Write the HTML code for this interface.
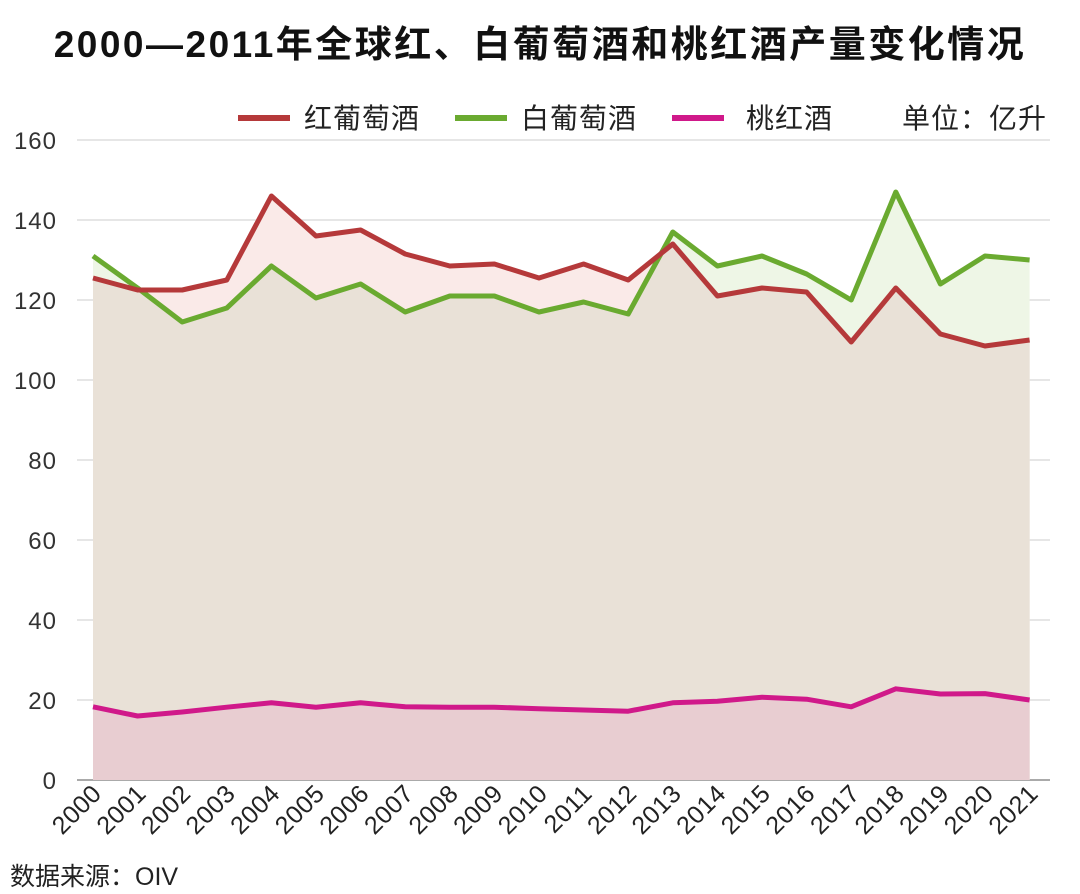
<!DOCTYPE html>
<html><head><meta charset="utf-8"><style>
html,body{margin:0;padding:0;background:#fff;width:1080px;height:894px;overflow:hidden}
svg text{font-family:"Liberation Sans","Noto Sans CJK SC",sans-serif}
</style></head><body>
<svg id="c" width="1080" height="894" xmlns="http://www.w3.org/2000/svg">
<text x="540" y="57" text-anchor="middle" font-size="37" font-weight="bold" fill="#111" letter-spacing="2.5">2000—2011年全球红、白葡萄酒和桃红酒产量变化情况</text>
<line x1="238" y1="118" x2="290" y2="118" stroke="#b5393a" stroke-width="6"/>
<text x="304" y="128" font-size="28" fill="#222" letter-spacing="1">红葡萄酒</text>
<line x1="455" y1="118" x2="507" y2="118" stroke="#6aaa30" stroke-width="6"/>
<text x="521" y="128" font-size="28" fill="#222" letter-spacing="1">白葡萄酒</text>
<line x1="672" y1="118" x2="724" y2="118" stroke="#d0198a" stroke-width="6"/>
<text x="746" y="128" font-size="28" fill="#222" letter-spacing="1">桃红酒</text>
<text x="902" y="128" font-size="28" fill="#222" letter-spacing="1">单位：亿升</text>
<text x="10" y="885" font-size="25" fill="#222">数据来源：OIV</text>
</svg>
<script>
var R=[125.5,122.5,122.5,125,146,136,137.5,131.5,128.5,129,125.5,129,125,134,121,123,122,109.5,123,111.5,108.5,110];
var G=[131,123,114.5,118,128.5,120.5,124,117,121,121,117,119.5,116.5,137,128.5,131,126.5,120,147,124,131,130];
var P=[18.3,16,17,18.2,19.3,18.2,19.3,18.3,18.2,18.2,17.8,17.5,17.2,19.3,19.7,20.7,20.2,18.3,22.8,21.5,21.6,20];
function X(i){return 93+i*44.6}function Y(v){return 780-v*4}
var s='';
for(var k=0;k<=8;k++){var y=Y(k*20);s+='<line x1="77" y1="'+y+'" x2="1050" y2="'+y+'" stroke="'+(k==0?'#aaa':'#d8d8d8')+'" stroke-width="'+(k==0?2:1.2)+'"/>';
s+='<text x="57" y="'+(y+9)+'" text-anchor="end" font-size="24" fill="#333" letter-spacing="1">'+(k*20)+'</text>';}
function pts(a){return a.map(function(v,i){return X(i).toFixed(1)+','+Y(v).toFixed(1)}).join(' ')}
function area(a,c){return '<polygon points="'+X(0)+','+Y(0)+' '+pts(a)+' '+X(21)+','+Y(0)+'" fill="'+c+'"/>'}
var M=[];for(var i=0;i<22;i++){M.push([X(i),Y(Math.min(R[i],G[i]))]);if(i<21){var d1=R[i]-G[i],d2=R[i+1]-G[i+1];if(d1*d2<0){var t=d1/(d1-d2);M.push([X(i)+t*44.6,Y(R[i]+t*(R[i+1]-R[i]))]);}}}
s+=area(R,'#faeae8')+area(G,'#eef6e6');
s+='<polygon points="'+X(0)+','+Y(0)+' '+M.map(function(p){return p[0].toFixed(1)+','+p[1].toFixed(1)}).join(' ')+' '+X(21)+','+Y(0)+'" fill="#e9e1d7"/>';
s+=area(P,'#e8cdd1');
s+='<polyline points="'+pts(G)+'" fill="none" stroke="#6aaa30" stroke-width="5" stroke-linejoin="round"/>';
s+='<polyline points="'+pts(R)+'" fill="none" stroke="#b5393a" stroke-width="5" stroke-linejoin="round"/>';
s+='<polyline points="'+pts(P)+'" fill="none" stroke="#d0198a" stroke-width="5" stroke-linejoin="round"/>';
for(var i=0;i<22;i++){var x=X(i)+10,y=795;s+='<text x="'+x+'" y="'+y+'" text-anchor="end" font-size="25" fill="#222" letter-spacing="0.5" transform="rotate(-45 '+x+' '+y+')">'+(2000+i)+'</text>';}
document.getElementById('c').insertAdjacentHTML('afterbegin',s);
</script>
</body></html>
